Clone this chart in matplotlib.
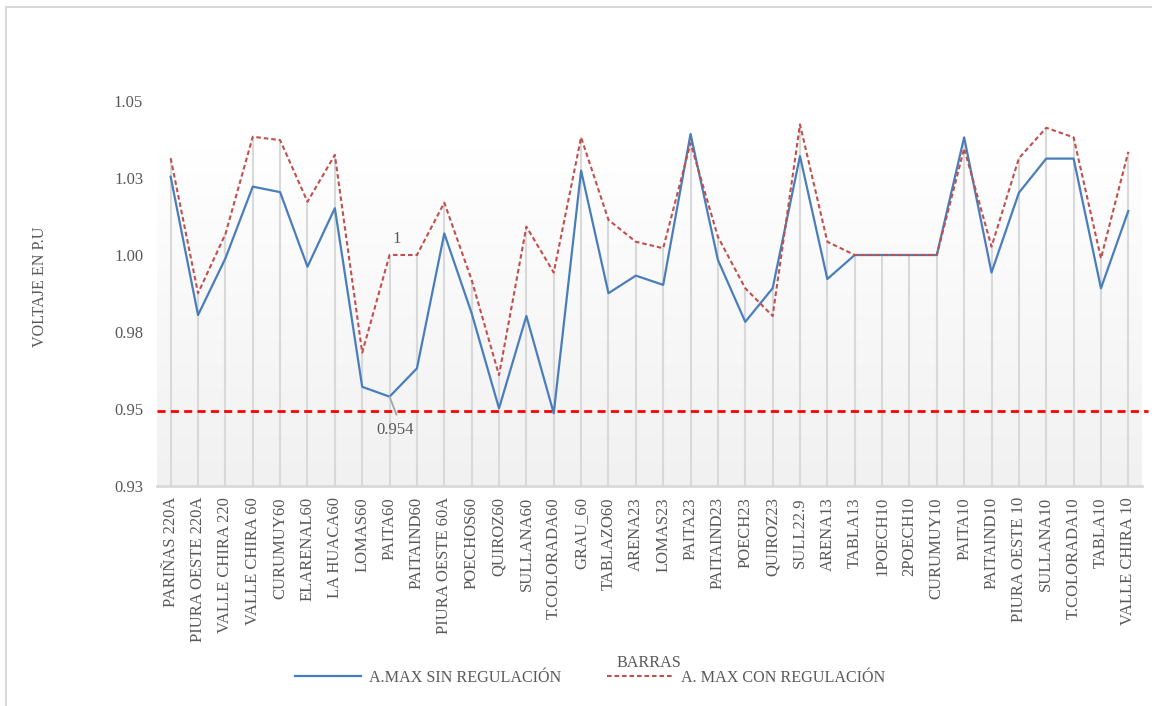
from decimal import Decimal, ROUND_HALF_UP
import numpy as np
import matplotlib.pyplot as plt
from matplotlib.colors import LinearSegmentedColormap
from matplotlib.patches import Rectangle

barras = ['PARIÑAS 220A', 'PIURA OESTE 220A', 'VALLE CHIRA 220', 'VALLE CHIRA 60',
          'CURUMUY60', 'ELARENAL60', 'LA HUACA60', 'LOMAS60', 'PAITA60', 'PAITAIND60',
          'PIURA OESTE 60A', 'POECHOS60', 'QUIROZ60', 'SULLANA60', 'T.COLORADA60',
          'GRAU_60', 'TABLAZO60', 'ARENA23', 'LOMAS23', 'PAITA23', 'PAITAIND23',
          'POECH23', 'QUIROZ23', 'SULL22.9', 'ARENA13', 'TABLA13', '1POECH10',
          '2POECH10', 'CURUMUY10', 'PAITA10', 'PAITAIND10', 'PIURA OESTE 10',
          'SULLANA10', 'T.COLORADA10', 'TABLA10', 'VALLE CHIRA 10']

# tension maxima sin regulacion (p.u.)
sin_reg = [1.0254, 0.9805, 0.9989, 1.0222, 1.0204, 0.9962, 1.0152, 0.9572, 0.954,
           0.9632, 1.0070, 0.9811, 0.9502, 0.9802, 0.9486, 1.0274, 0.9876, 0.9933,
           0.9903, 1.0393, 0.9984, 0.9783, 0.9892, 1.0321, 0.9922, 1.0, 1.0,
           1.0, 1.0, 1.0382, 0.9943, 1.0202, 1.0313, 1.0313, 0.9892, 1.0143]

# tension maxima con regulacion (p.u.)
con_reg = [1.0314, 0.9876, 1.0068, 1.0384, 1.0373, 1.0173, 1.0325, 0.9683, 1.0,
           1.0, 1.0170, 0.9919, 0.9610, 1.0092, 0.9943, 1.0382, 1.0114, 1.0043,
           1.0022, 1.0363, 1.0059, 0.9892, 0.9802, 1.0424, 1.0043, 1.0, 1.0,
           1.0, 1.0, 1.0346, 1.0027, 1.0314, 1.0413, 1.0382, 0.9989, 1.0335]

limite = 0.9495
y_ticks = [0.925, 0.95, 0.975, 1.0, 1.025, 1.05]


def fmt2(v):
    # redondeo como en Excel (mitad hacia arriba)
    return str(Decimal(str(v)).quantize(Decimal('0.01'), rounding=ROUND_HALF_UP))


plt.rcParams['font.family'] = ['Liberation Serif', 'DejaVu Serif']
gris = '#595959'

fig = plt.figure(figsize=(11.52, 7.06), dpi=100)
ax = fig.add_axes([157/1152, 1-486/706, 985/1152, 385/706])

x = np.arange(len(barras))

# fondo degradado del area de trazado
grad = np.linspace(0, 1, 256).reshape(-1, 1)
grad = np.clip((grad - 0.12) / 0.88, 0, 1)
cmap = LinearSegmentedColormap.from_list('fondo', ['#ffffff', '#f1f1f1'])
ax.imshow(grad, cmap=cmap, extent=[-0.5, 35.5, 0.925, 1.05], aspect='auto',
          origin='upper', zorder=0)

# lineas de caida
tope = np.maximum(sin_reg, con_reg)
ax.vlines(x, 0.925, tope, color='#d9d9d9', lw=1.5, zorder=1)

ax.plot(x, sin_reg, color='#4a7ebb', lw=1.6, zorder=3, label='A.MAX SIN REGULACIÓN')
ax.plot(x, con_reg, color='#c0504d', lw=1.5, ls=(0, (2.2, 1.4)), zorder=3,
        label='A. MAX CON REGULACIÓN')

ax.axhline(limite, xmin=0, xmax=1.006, color='#ff0000', lw=2, ls=(0, (2.9, 1.9)),
           zorder=4, clip_on=False)

ax.set_xlim(-0.5, 35.5)
ax.set_ylim(0.925, 1.05)
ax.set_yticks(y_ticks)
ax.set_yticklabels([fmt2(v) for v in y_ticks])
ax.set_xticks(x)
ax.set_xticklabels(barras, rotation=90)
ax.tick_params(axis='both', length=0, colors=gris, labelsize=12)
ax.tick_params(axis='y', pad=10)
ax.tick_params(axis='x', pad=8)
for s in ['top', 'right', 'left']:
    ax.spines[s].set_visible(False)
ax.spines['bottom'].set_color('#d9d9d9')
ax.spines['bottom'].set_linewidth(2)

# etiquetas de datos en PAITA60
i = barras.index('PAITA60')
ax.annotate(f'{con_reg[i]:g}', (x[i], con_reg[i]), xytext=(5, 6), textcoords='offset points',
            ha='center', va='bottom', color=gris, fontsize=12)
ax.annotate('', (x[i], sin_reg[i]), xytext=(5, -13), textcoords='offset points',
            arrowprops=dict(arrowstyle='-', color='#a6a6a6', lw=1.3, shrinkA=0, shrinkB=0))
ax.annotate(f'{sin_reg[i]:.3f}', (x[i], sin_reg[i]), xytext=(4, -24), textcoords='offset points',
            ha='center', va='center', color=gris, fontsize=12)

fig.text(40/1152, 1-287/706, 'VOLTAJE EN P.U', rotation=90, ha='center', va='center',
         color=gris, fontsize=11.6)
fig.text(649/1152, 1-663/706, 'BARRAS', ha='center', va='center', color=gris, fontsize=11.6)

fig.legend(loc='center', bbox_to_anchor=(590/1152, 1-678/706), ncol=2, frameon=False,
           handlelength=4.1, handletextpad=0.5, columnspacing=2.8, fontsize=11.6,
           labelcolor=gris)

# borde del grafico
fig.patches.append(Rectangle((6/1152, -0.1), 1.2, 1-7/706+0.1, transform=fig.transFigure,
                             fill=False, edgecolor='#d9d9d9', lw=1.5))

fig.savefig('out.png', dpi=100)
